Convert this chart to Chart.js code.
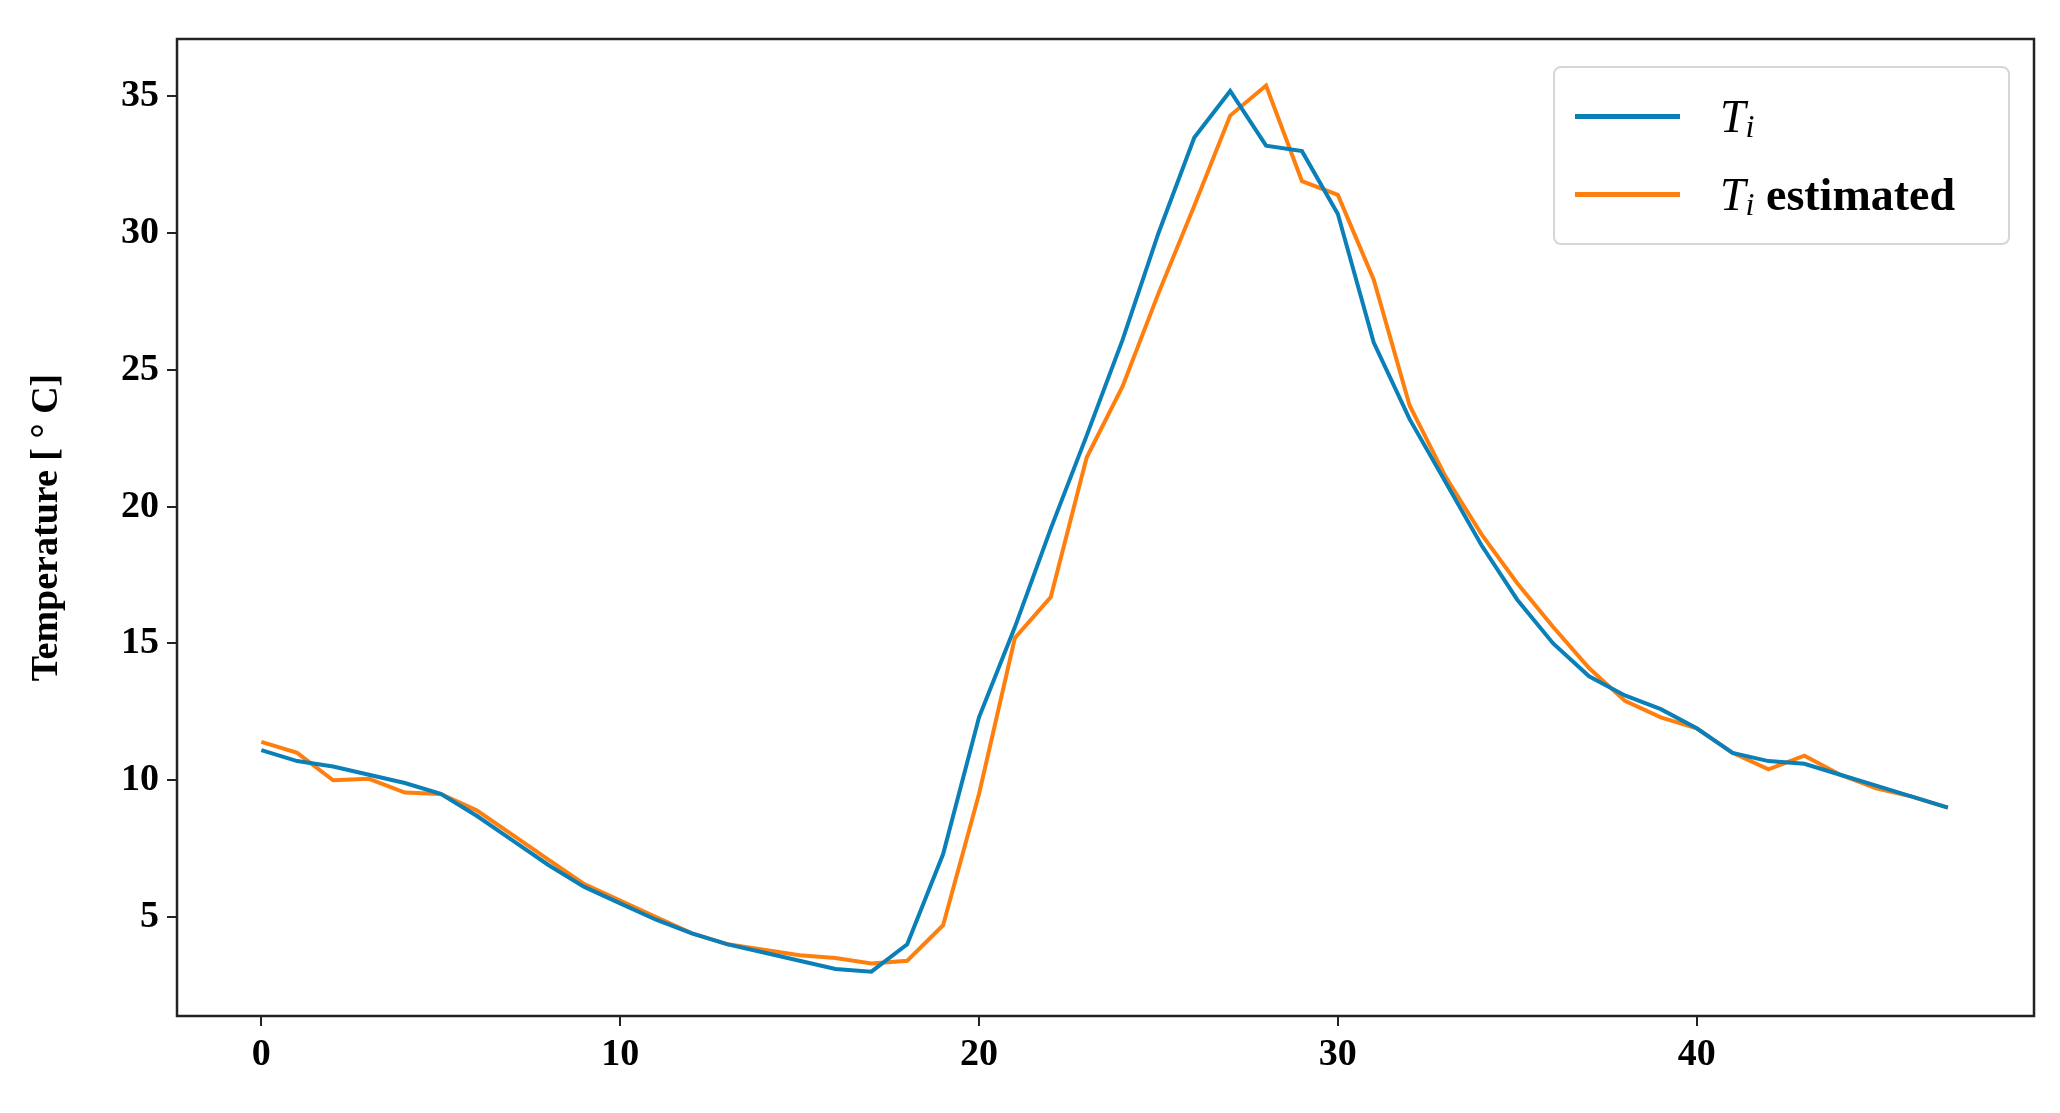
<!DOCTYPE html>
<html>
<head>
    <script src="https://cdn.jsdelivr.net/npm/chart.js"></script>
    <style>
        body { margin: 0; background: white; }
        .wrap { position: relative; width: 2060px; height: 1113px; }
        .legend {
            position: absolute; left: 1553px; top: 66px; width: 453px; height: 175px;
            border: 2px solid #d6d6d6; border-radius: 8px; background: rgba(255,255,255,0.85);
            font-family: "Liberation Serif", serif; font-size: 46px; color: #000;
        }
        .row { position: absolute; left: 20px; display: flex; align-items: center; }
        .row .ln { width: 105px; height: 5px; margin-right: 40px; }
        .row i { font-style: italic; font-weight: normal; }
        .row sub { font-size: 32px; font-style: italic; position: relative; top: 10px; }
    </style>
</head>
<body>
<div class="wrap">
    <canvas id="c" width="2060" height="1113"></canvas>
    <div class="legend">
        <div class="row" style="top:22px"><span class="ln" style="background:#0a7fb8"></span><i>T</i><sub>i</sub></div>
        <div class="row" style="top:100px"><span class="ln" style="background:#ff7f0e"></span><i>T</i><sub>i</sub>&nbsp;<b>estimated</b></div>
    </div>
</div>
<script>
    const hours = Array.from({ length: 48 }, (_, i) => i);
    const tiActual = [11.1, 10.7, 10.5, 10.2, 9.9, 9.5, 8.7, 7.8, 6.9, 6.1, 5.5, 4.9, 4.4, 4.0, 3.7, 3.4, 3.1, 3.0,
        4.0, 7.3, 12.3, 15.6, 19.2, 22.6, 26.1, 30.0, 33.5, 35.2, 33.2, 33.0, 30.7, 26.0, 23.2, 20.9, 18.6, 16.6,
        15.0, 13.8, 13.1, 12.6, 11.9, 11.0, 10.7, 10.6, 10.2, 9.8, 9.4, 9.0];
    const tiEstimated = [11.4, 11.0, 10.0, 10.05, 9.55, 9.5, 8.9, 8.0, 7.1, 6.2, 5.6, 5.0, 4.4, 4.0, 3.8, 3.6, 3.5, 3.3,
        3.4, 4.7, 9.5, 15.2, 16.7, 21.8, 24.4, 27.8, 31.0, 34.3, 35.4, 31.9, 31.4, 28.3, 23.7, 21.1, 19.0, 17.2,
        15.6, 14.1, 12.9, 12.3, 11.9, 11.0, 10.4, 10.9, 10.2, 9.7, 9.4, 9.0];
    const xTicks = [0, 10, 20, 30, 40];
    const yTicks = [5, 10, 15, 20, 25, 30, 35];

    const font = { family: 'Liberation Serif', size: 38, weight: 'bold' };

    // box around the plot area, like matplotlib spines
    const frame = {
        id: 'frame',
        afterDraw(chart) {
            const a = chart.chartArea, ctx = chart.ctx;
            ctx.save();
            ctx.strokeStyle = '#222';
            ctx.lineWidth = 2.5;
            ctx.strokeRect(a.left, a.top, a.right - a.left, a.bottom - a.top);
            ctx.restore();
        }
    };

    new Chart(document.getElementById('c'), {
        type: 'line',
        data: {
            datasets: [
                { data: hours.map((h, i) => ({ x: h, y: tiActual[i] })), borderColor: '#0a7fb8', borderWidth: 4, pointRadius: 0, tension: 0 },
                { data: hours.map((h, i) => ({ x: h, y: tiEstimated[i] })), borderColor: '#ff7f0e', borderWidth: 4, pointRadius: 0, tension: 0 }
            ]
        },
        options: {
            responsive: false,
            animation: false,
            layout: { padding: { top: 39, right: 26 } },
            plugins: { legend: { display: false }, tooltip: { enabled: false } },
            scales: {
                x: {
                    type: 'linear', min: -2.35, max: 49.4,
                    afterBuildTicks: s => { s.ticks = xTicks.map(v => ({ value: v })); },
                    afterFit: s => { s.height = 97; },
                    grid: { drawOnChartArea: false, tickLength: 10, color: '#222', lineWidth: 2 },
                    border: { display: false },
                    ticks: { font, color: '#000', padding: 6, maxRotation: 0 }
                },
                y: {
                    min: 1.38, max: 37.1,
                    afterBuildTicks: s => { s.ticks = yTicks.map(v => ({ value: v })); },
                    afterFit: s => { s.width = 177; },
                    grid: { drawOnChartArea: false, tickLength: 10, color: '#222', lineWidth: 2 },
                    border: { display: false },
                    ticks: { font, color: '#000', padding: 8 },
                    title: { display: true, text: 'Temperature [ ° C]', font, color: '#000', padding: { top: 24, bottom: 4 } }
                }
            }
        },
        plugins: [frame]
    });
</script>
</body>
</html>
